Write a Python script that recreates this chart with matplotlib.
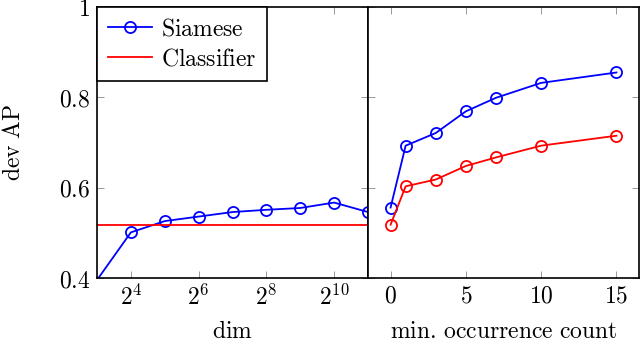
import matplotlib
matplotlib.use('Agg')
import matplotlib.pyplot as plt

plt.rcParams['mathtext.fontset'] = 'cm'
plt.rcParams['font.family'] = 'serif'
plt.rcParams['font.serif'] = ['DejaVu Serif']
plt.rcParams['axes.unicode_minus'] = False

# left panel: embedding dim
dims = [4, 16, 32, 64, 128, 256, 512, 1024, 2048]
siamese_dim = [0.29, 0.501, 0.526, 0.536, 0.546, 0.551, 0.555, 0.567, 0.546]
classifier_dim = 0.518

# right panel: min. occurrence count
counts = [0, 1, 3, 5, 7, 10, 15]
siamese_cnt = [0.556, 0.693, 0.721, 0.769, 0.799, 0.832, 0.855]
classifier_cnt = [0.518, 0.603, 0.618, 0.648, 0.667, 0.693, 0.715]

dim_ticks = [16, 64, 256, 1024]
dim_labels = [r'$2^{4}$', r'$2^{6}$', r'$2^{8}$', r'$2^{10}$']
cnt_ticks = [0, 5, 10, 15]
y_ticks = [0.4, 0.6, 0.8, 1.0]
y_labels = [r'$0.4$', r'$0.6$', r'$0.8$', r'$1$']

fs = 17
blue = '#0000ff'
red = '#ff0000'

fig = plt.figure(figsize=(6.4, 3.44), dpi=100)
ax1 = fig.add_axes([97 / 640, 66 / 344, 271 / 640, 271 / 344])
ax2 = fig.add_axes([368 / 640, 66 / 344, 271 / 640, 271 / 344])

mk = dict(marker='o', markersize=8, markerfacecolor='none', markeredgewidth=1.3, linewidth=1.3)

ax1.plot(dims, siamese_dim, color=blue, label=r'$\mathrm{Siamese}$', **mk)
ax1.plot([8, 2048], [classifier_dim, classifier_dim], color=red, linewidth=1.3,
         label=r'$\mathrm{Classifier}$')
ax1.set_xscale('log', base=2)
ax1.set_xlim(8, 2048)
ax1.set_xticks(dim_ticks)
ax1.set_xticklabels(dim_labels)
ax1.minorticks_off()

ax2.plot(counts, siamese_cnt, color=blue, **mk)
ax2.plot(counts, classifier_cnt, color=red, **mk)
ax2.set_xlim(-1.5, 16.5)
ax2.set_xticks(cnt_ticks)
ax2.set_xticklabels([r'$%d$' % c for c in cnt_ticks])

for ax in (ax1, ax2):
    ax.set_ylim(0.4, 1.0)
    ax.set_yticks(y_ticks)
    ax.tick_params(direction='in', top=True, right=True, length=5, width=0.6,
                   color='#888888', labelsize=fs, pad=5)
    for s in ax.spines.values():
        s.set_linewidth(1.2)
        s.set_color('black')

ax1.set_yticklabels(y_labels)
ax2.set_yticklabels([])
ax2.tick_params(labelleft=False)

ax1.set_ylabel(r'$\mathrm{dev\ AP}$', fontsize=fs)
ax1.yaxis.set_label_coords(-0.265, 0.5)
ax1.set_xlabel(r'$\mathrm{dim}$', fontsize=fs)
ax1.xaxis.set_label_coords(0.5, -0.155)
ax2.set_xlabel(r'$\mathrm{min.\,occurrence\ count}$', fontsize=fs)
ax2.xaxis.set_label_coords(0.5, -0.155)

leg = ax1.legend(loc='upper left', fontsize=fs, fancybox=False, framealpha=1,
                 edgecolor='black', borderaxespad=0, handlelength=1.9,
                 borderpad=0.45, labelspacing=0.3, handletextpad=0.35)
leg.get_frame().set_linewidth(1.2)

fig.savefig('out.png', dpi=100)
